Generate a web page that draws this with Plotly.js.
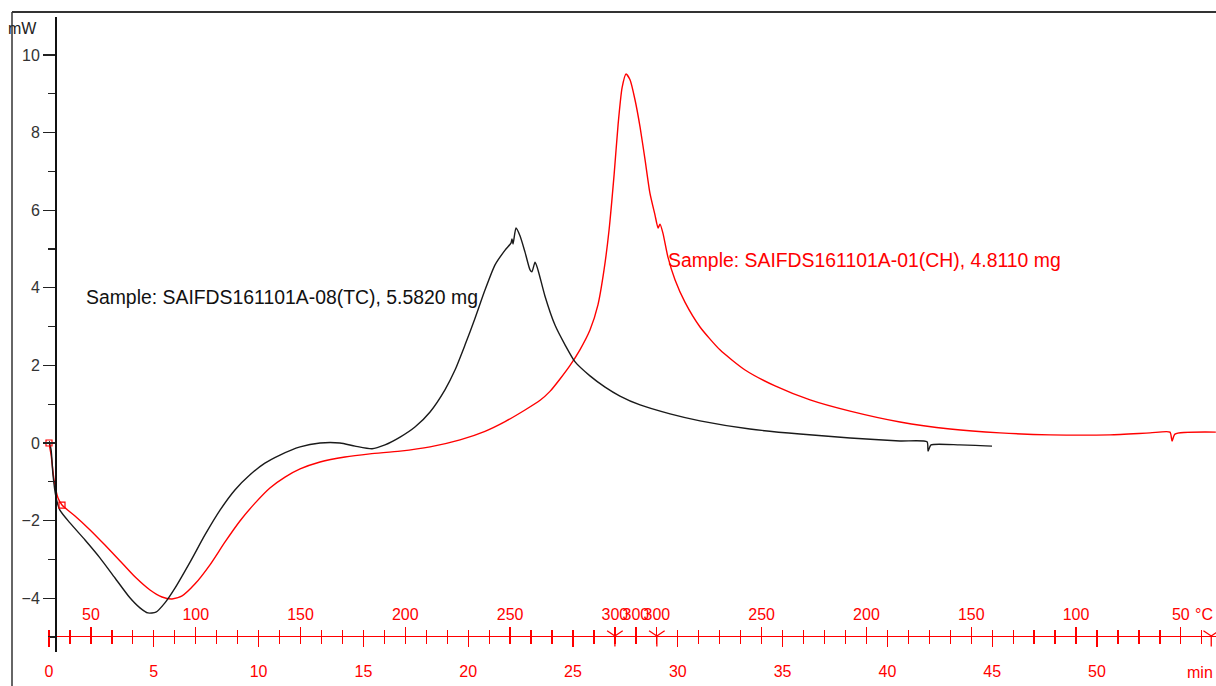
<!DOCTYPE html>
<html><head><meta charset="utf-8">
<script src="https://cdn.plot.ly/plotly-3.0.1.min.js"></script>
<style>html,body{margin:0;padding:0;background:#fff;overflow:hidden}#chart{width:1216px;height:686px}</style>
</head><body><div id="chart"></div>
<script>
// Sample SAIFDS161101A-08(TC) : time (min) / heat flow (mW)
const tcTime = [0, 0.1, 0.19, 0.33, 0.52, 1.0, 1.72, 2.43, 3.15, 3.86, 4.34, 4.72, 5.1, 5.53, 6.01, 6.73, 7.44, 8.16, 8.87, 9.59, 10.3, 11.02, 11.98, 12.93, 13.88, 14.6, 15.41, 16.03, 16.75, 17.46, 18.18, 18.89, 19.37, 19.85, 20.33, 20.8, 21.28, 21.76, 22.04, 22.09, 22.14, 22.28, 22.47, 22.71, 22.95, 23.04, 23.19, 23.33, 23.66, 24.14, 24.62, 25.1, 25.81, 26.53, 27.24, 28.2, 29.63, 31.06, 33.44, 35.83, 38.22, 40.6, 41.89, 41.94, 42.08, 43.46, 44.99];
const tcHeat = [0.05, -0.18, -0.82, -1.39, -1.73, -2.06, -2.5, -2.96, -3.48, -3.99, -4.25, -4.38, -4.36, -4.12, -3.74, -3.07, -2.37, -1.73, -1.21, -0.82, -0.52, -0.31, -0.1, 0.0, 0.0, -0.08, -0.15, -0.05, 0.15, 0.41, 0.8, 1.37, 1.88, 2.53, 3.22, 3.94, 4.59, 4.97, 5.15, 5.26, 5.13, 5.54, 5.34, 4.92, 4.46, 4.41, 4.66, 4.46, 3.79, 3.04, 2.53, 2.09, 1.73, 1.44, 1.21, 0.98, 0.75, 0.57, 0.36, 0.23, 0.13, 0.05, 0.03, -0.21, -0.05, -0.05, -0.08];
// Sample SAIFDS161101A-01(CH)
const chTime = [0, 0.1, 0.24, 0.43, 0.62, 1.24, 1.96, 2.67, 3.39, 4.1, 4.82, 5.39, 5.87, 6.35, 6.97, 7.68, 8.4, 9.11, 9.83, 10.54, 11.26, 11.98, 12.93, 14.12, 15.31, 16.75, 18.18, 19.61, 20.8, 21.76, 22.71, 23.43, 23.9, 24.38, 24.86, 25.33, 25.81, 26.19, 26.48, 26.72, 26.96, 27.15, 27.34, 27.53, 27.72, 27.96, 28.2, 28.44, 28.67, 28.91, 29.06, 29.15, 29.29, 29.53, 29.87, 30.34, 31.06, 32.01, 33.21, 34.64, 36.31, 38.22, 40.6, 42.99, 45.37, 47.76, 50.62, 52.53, 53.48, 53.58, 53.72, 55.67];
const chHeat = [0, -0.31, -0.95, -1.42, -1.6, -1.88, -2.24, -2.63, -3.04, -3.45, -3.79, -3.97, -4.02, -3.94, -3.63, -3.14, -2.55, -2.01, -1.55, -1.16, -0.88, -0.67, -0.49, -0.36, -0.28, -0.21, -0.1, 0.08, 0.3, 0.55, 0.85, 1.1, 1.33, 1.65, 2.0, 2.4, 2.91, 3.56, 4.46, 5.49, 6.91, 8.2, 9.15, 9.51, 9.36, 8.84, 8.14, 7.29, 6.44, 5.88, 5.54, 5.64, 5.41, 4.79, 4.2, 3.63, 2.99, 2.4, 1.88, 1.47, 1.11, 0.82, 0.54, 0.36, 0.26, 0.21, 0.21, 0.26, 0.28, 0.05, 0.23, 0.28];
const chMarkTime = [0, 0.62];
const chMarkHeat = [0, -1.6];

const minuteTicks = [0, 5, 10, 15, 20, 25, 30, 35, 40, 45, 50];
const tempTickTime = [2, 7, 12, 17, 22, 27, 28, 29, 34, 39, 44, 49, 54];
const tempTickText = ['50', '100', '150', '200', '250', '300', '300', '300', '250', '200', '150', '100', '50'];
const segmentEnds = [27, 29, 55.45];
const labelTC = 'Sample: SAIFDS161101A-08(TC), 5.5820 mg';
const labelCH = 'Sample: SAIFDS161101A-01(CH), 4.8110 mg';

const W = 1216, H = 686;
const RED = '#ff0000';
const FONT = 'Liberation Sans, Arial, Helvetica, sans-serif';
const yRange = [-5.387, 10.979];
const xRange = [0, 55.677];
const axisLevel = -4.974; // mW level where the time axis is drawn
const axPos = (axisLevel - yRange[0]) / (yRange[1] - yRange[0]);
const mT = 17, mB = 34;
const plotH = H - mT - mB;
const px = v => v / W;
const py = v => (H - mB - v) / plotH;
const xDom = [49 / W, 1];

const traces = [
  {x: chTime, y: chHeat, mode: 'lines', line: {color: RED, width: 1.4, shape: 'spline', smoothing: 0.6}, hoverinfo: 'skip'},
  {x: tcTime, y: tcHeat, mode: 'lines', line: {color: '#1a1a1a', width: 1.4, shape: 'spline', smoothing: 0.6}, hoverinfo: 'skip'},
  {x: chMarkTime, y: chMarkHeat, mode: 'markers', cliponaxis: false,
   marker: {symbol: 'square-open', size: 6, color: RED, line: {width: 1.2, color: RED}}, hoverinfo: 'skip'},
  {x: segmentEnds, y: segmentEnds.map(() => axisLevel), mode: 'markers', cliponaxis: false,
   marker: {symbol: 'y-down-open', size: 13, color: RED, line: {width: 1.3, color: RED}}, hoverinfo: 'skip'},
  {x: [], y: [], xaxis: 'x2', hoverinfo: 'skip'},
  {x: [], y: [], xaxis: 'x3', hoverinfo: 'skip'},
  {x: [], y: [], xaxis: 'x4', hoverinfo: 'skip'}
];

const common = {domain: xDom, range: xRange, anchor: 'free', position: axPos, showgrid: false, zeroline: false, fixedrange: true};

const layout = {
  width: W, height: H,
  margin: {l: 0, r: 0, t: mT, b: mB, pad: 0},
  paper_bgcolor: '#fff', plot_bgcolor: '#fff',
  showlegend: false,
  xaxis: Object.assign({}, common, {
    side: 'bottom', showline: true, linecolor: RED, linewidth: 1.5,
    tickmode: 'array', tickvals: minuteTicks, ticktext: minuteTicks.map(String), tickangle: 0,
    ticks: 'outside', ticklen: 10, tickwidth: 1.3, tickcolor: RED,
    tickfont: {family: FONT, size: 16, color: RED}, ticklabelstandoff: 10
  }),
  xaxis2: Object.assign({}, common, {
    overlaying: 'x', side: 'bottom', showline: false,
    tickmode: 'linear', tick0: 0, dtick: 1, ticks: 'outside', ticklen: 7, tickwidth: 1.3, tickcolor: RED,
    showticklabels: false
  }),
  xaxis3: Object.assign({}, common, {
    overlaying: 'x', side: 'top', showline: false,
    tickmode: 'linear', tick0: 0, dtick: 1, ticks: 'outside', ticklen: 6, tickwidth: 1.3, tickcolor: RED,
    showticklabels: false
  }),
  xaxis4: Object.assign({}, common, {
    overlaying: 'x', side: 'top', showline: false,
    tickmode: 'array', tickvals: tempTickTime, ticktext: tempTickText, tickangle: 0,
    ticks: 'outside', ticklen: 9, tickwidth: 1.3, tickcolor: RED,
    tickfont: {family: FONT, size: 16, color: RED}, ticklabelstandoff: 1
  }),
  yaxis: {
    domain: [0, 1], range: yRange, anchor: 'free', position: 55 / W, side: 'left',
    showline: true, linecolor: '#111', linewidth: 1.5,
    showgrid: false, zeroline: false, fixedrange: true,
    tickmode: 'linear', tick0: 0, dtick: 2,
    ticks: 'outside', ticklen: 12, tickwidth: 1.2, tickcolor: '#222',
    tickfont: {family: FONT, size: 16, color: '#333'},
    minor: {tickmode: 'linear', tick0: 0, dtick: 1, ticks: 'outside', ticklen: 7, tickwidth: 1.2, tickcolor: '#222', showgrid: false}
  },
  shapes: [
    {type: 'line', xref: 'paper', yref: 'paper', x0: px(12), x1: px(12), y0: py(H + 2), y1: py(12), line: {color: '#333', width: 1.5}},
    {type: 'line', xref: 'paper', yref: 'paper', x0: px(12), x1: px(W + 2), y0: py(12), y1: py(12), line: {color: '#333', width: 2}}
  ],
  annotations: [
    {xref: 'paper', yref: 'paper', x: px(39), y: py(28), xanchor: 'right', yanchor: 'middle', showarrow: false,
     text: 'mW', font: {family: FONT, size: 16, color: '#222'}},
    {xref: 'x', yref: 'y', x: 1.68, y: 3.76, xanchor: 'left', yanchor: 'middle', showarrow: false,
     text: labelTC, font: {family: FONT, size: 19.4, color: '#111'}},
    {xref: 'x', yref: 'y', x: 29.45, y: 4.72, xanchor: 'left', yanchor: 'middle', showarrow: false,
     text: labelCH, font: {family: FONT, size: 19.4, color: RED}},
    {xref: 'paper', yref: 'paper', x: px(1215), y: py(672), xanchor: 'right', yanchor: 'middle', showarrow: false,
     text: 'min', font: {family: FONT, size: 16, color: RED}},
    {xref: 'paper', yref: 'paper', x: px(1215), y: py(614), xanchor: 'right', yanchor: 'middle', showarrow: false,
     text: '°C', font: {family: FONT, size: 16, color: RED}}
  ]
};

Plotly.newPlot('chart', traces, layout, {staticPlot: true, displayModeBar: false});
</script>
</body></html>
